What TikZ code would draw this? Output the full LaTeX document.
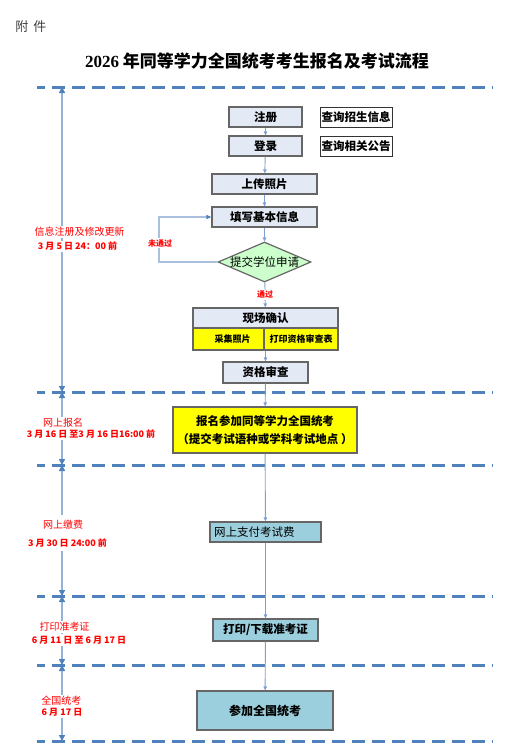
\documentclass[tikz,border=0pt]{standalone}
\usepackage{fontspec}
\setmainfont{Noto Sans CJK SC}
\newfontfamily\numf{Liberation Serif}
\usetikzlibrary{arrows.meta,shapes.geometric}
\definecolor{dashc}{HTML}{4F81BD}
\definecolor{tlc}{HTML}{95B3D7}
\definecolor{flowc}{HTML}{7F9FD3}
\definecolor{loopc}{HTML}{A9C0E0}
\definecolor{boxfill}{HTML}{E3EAF5}
\definecolor{boxdraw}{HTML}{666666}
\definecolor{cyanfill}{HTML}{9BCFDD}
\definecolor{dgreen}{HTML}{CCFFCC}
\definecolor{yel}{HTML}{FFFF00}
\begin{document}
\begin{tikzpicture}[x=1pt,y=-1pt,
  sep/.style={dashc, line width=3pt, dash pattern=on 13pt off 7pt, dash phase=5pt},
  tlarrow/.style={tlc, line width=1.5pt, {Triangle[length=6pt,width=6pt,color=dashc]}-{Triangle[length=6pt,width=6pt,color=dashc]}},
  flowarr/.style={flowc, line width=0.9pt, -{Triangle[length=4pt,width=3.5pt]}},
  loopline/.style={loopc, line width=1.6pt, -{Triangle[length=5pt,width=4pt,color=dashc]}},
  boxtxt/.style={font=\fontsize{11.5}{13}\selectfont\bfseries},
  box/.style={draw=boxdraw, fill=boxfill, line width=1.2pt, inner sep=0pt, boxtxt},
  sidebox/.style={draw=black!80, fill=white, line width=0.8pt, inner sep=0pt, boxtxt},
  ybox/.style={draw=boxdraw, fill=yel, line width=1.2pt, inner sep=0pt, font=\fontsize{9}{10}\selectfont\bfseries},
  cbox/.style={draw=boxdraw, fill=cyanfill, line width=1.2pt, inner sep=0pt, boxtxt},
  redlab/.style={text=red, fill=white, inner sep=1.5pt, font=\fontsize{10}{11}\selectfont},
  reddate/.style={text=red, fill=white, inner sep=1.5pt, font=\fontsize{9}{10}\selectfont\bfseries},
  smallred/.style={text=red, fill=white, inner sep=1pt, font=\fontsize{8}{9}\selectfont\bfseries}
]
\fill[white] (0,0) rectangle (514,756);
\useasboundingbox (0,0) rectangle (514,756);

% header
\node[text=black!75, font=\fontsize{13}{14}\selectfont] (att) at (31,27) {附\hspace{5pt}件};
\node[font=\fontsize{17}{18}\selectfont\bfseries] (title) at (257,61) {{\numf 2026} 年同等学力全国统考考生报名及考试流程};

% separators
\draw[sep] (37,87) -- (493,87);
\draw[sep] (37,392) -- (493,392);
\draw[sep] (37,465) -- (493,465);
\draw[sep] (37,596) -- (493,596);
\draw[sep] (37,665) -- (493,665);
\draw[sep] (37,741) -- (493,741);

\coordinate (t0) at (62,87);
\coordinate (t1) at (62,392);
\coordinate (t2) at (62,465);
\coordinate (t3) at (62,596);
\coordinate (t4) at (62,665);
\coordinate (t5) at (62,741);

% timeline arrows
\draw[tlarrow] (t0) -- (t1);
\draw[tlarrow] (t1) -- (t2);
\draw[tlarrow] (t2) -- (t3);
\draw[tlarrow] (t3) -- (t4);
\draw[tlarrow] (t4) -- (t5);

% timeline labels
\node[redlab] (l1a) at (79.5,232) {信息注册及修改更新};
\node[reddate] (l1b) at (77.5,246.5) {3 月 5 日 24：00 前};
\node[redlab] (l2a) at (63,423) {网上报名};
\node[reddate] (l2b) at (91,434) {3 月 16 日 至3 月 16 日16:00 前};
\node[redlab, inner ysep=5pt] (l3a) at (63,525) {网上缴费};
\node[reddate, inner ysep=4pt] (l3b) at (67.5,543) {3 月 30 日 24:00 前};
\node[redlab] (l4a) at (64.5,627) {打印准考证};
\node[reddate] (l4b) at (79,640) {6 月 11 日 至 6 月 17 日};
\node[redlab] (l5a) at (61.5,701) {全国统考};
\node[reddate] (l5b) at (62,712) {6 月 17 日};

% flow boxes
\node[box, minimum width=73pt, minimum height=20pt] (reg) at (265.5,117) {注册};
\node[sidebox, minimum width=72pt, minimum height=20pt] (q1) at (356,117) {查询招生信息};
\node[box, minimum width=73pt, minimum height=20pt] (login) at (265.5,146) {登录};
\node[sidebox, minimum width=72pt, minimum height=20pt] (q2) at (356,146) {查询相关公告};
\node[box, minimum width=105pt, minimum height=20pt] (photo) at (264.5,184) {上传照片};
\node[box, minimum width=105pt, minimum height=20pt] (info) at (264.5,217) {填写基本信息};
\node[diamond, draw=boxdraw, fill=dgreen, line width=1.2pt, inner sep=0pt, minimum width=93pt, minimum height=40pt,
      label={[font=\fontsize{11.5}{13}\selectfont]center:提交学位申请}] (dia) at (264.5,262) {};
\node[box, minimum width=145pt, minimum height=20pt] (onsite) at (265.5,318) {现场确认};
\node[ybox, minimum width=71pt, minimum height=22pt] (collect) at (228.5,339) {\hspace{8pt}采集照片};
\node[ybox, minimum width=74pt, minimum height=22pt] (printform) at (301,339) {打印资格审查表};
\node[box, minimum width=85pt, minimum height=21pt] (review) at (265.5,372.5) {资格审查};
\node[draw=boxdraw, fill=yel, line width=1.2pt, inner sep=0pt, minimum width=184pt, minimum height=46pt,
      align=center, font=\fontsize{11.5}{18}\selectfont\bfseries] (apply) at (265,430) {报名参加同等学力全国统考\\（提交考试语种或学科考试地点 ）};
\node[cbox, minimum height=20pt, text width=103pt, inner xsep=4pt, align=left, font=\fontsize{11.5}{13}\selectfont] (pay) at (265.5,532) {网上支付考试费};
\node[cbox, minimum width=105pt, minimum height=22pt] (print) at (265.5,630) {打印/下载准考证};
\node[cbox, minimum width=136pt, minimum height=39pt, font=\fontsize{12}{13}\selectfont\bfseries] (exam) at (265,710.5) {参加全国统考};

% flow connectors
\draw[flowarr] (reg) -- (login);
\draw[flowarr] (login) -- (photo);
\draw[flowarr] (photo) -- (info);
\draw[flowarr] (info) -- (dia);
\draw[flowarr] (dia) -- node[smallred] (pass) {通过} (onsite);
\draw[flowarr] (review.north |- collect.south) -- (review.north);
\draw[flowarr] (review) -- (apply);
\draw[flowarr] (apply) -- (pay);
\draw[flowarr] (pay) -- (print);
\draw[flowarr] (print) -- (exam);

% loop back
\coordinate (lp) at (159,262);
\draw[loopline] (dia.west) -- (lp) |- (info.west);
\node[smallred] (fail) at (160,243) {未通过};
\end{tikzpicture}
\end{document}
